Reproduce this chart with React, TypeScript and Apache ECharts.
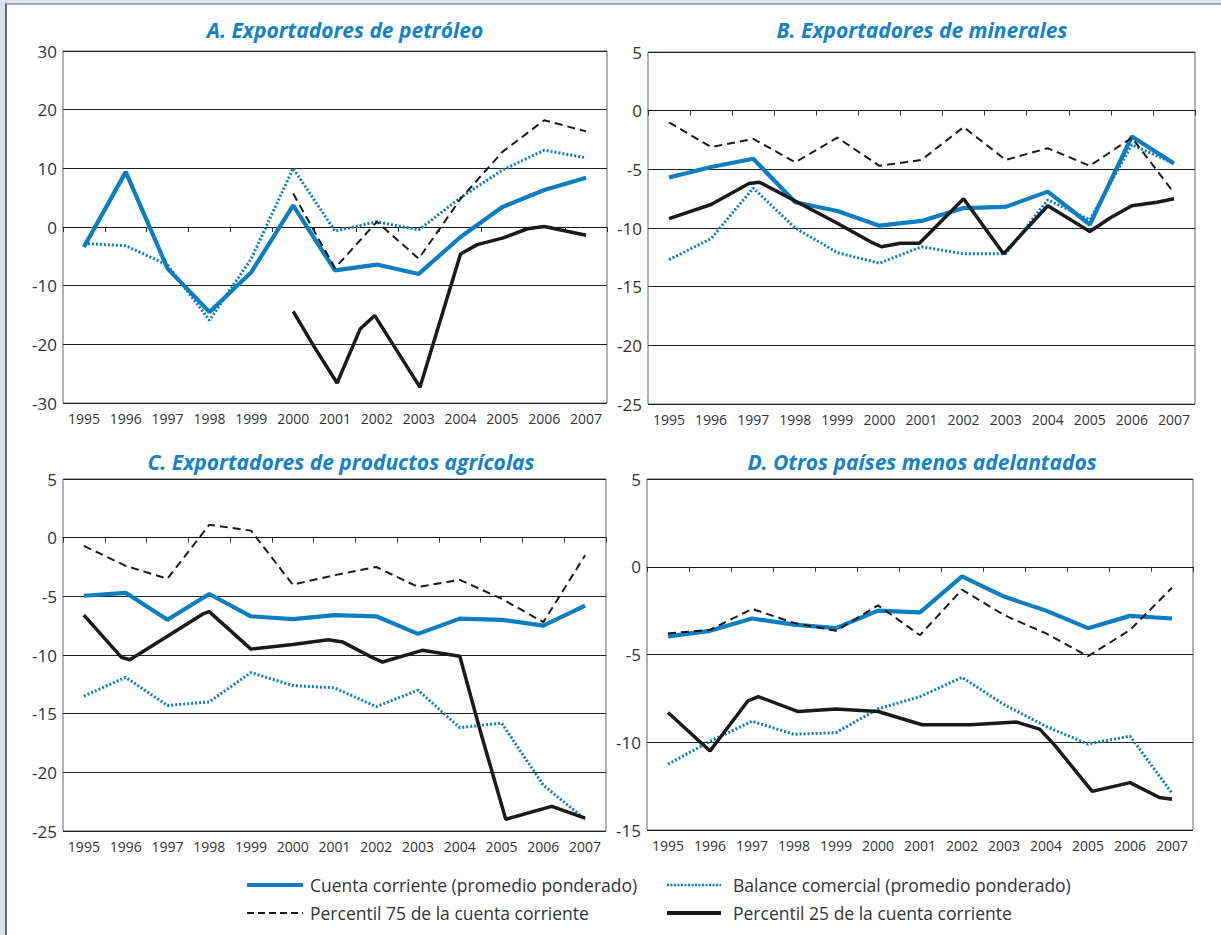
import React, { useEffect, useRef } from "react";
import * as echarts from "echarts";

const years = ["1995", "1996", "1997", "1998", "1999", "2000", "2001", "2002", "2003", "2004", "2005", "2006", "2007"];

const titles = [
  "A. Exportadores de petróleo",
  "B. Exportadores de minerales",
  "C. Exportadores de productos agrícolas",
  "D. Otros países menos adelantados",
];

const legendLabels = [
  "Cuenta corriente (promedio ponderado)",
  "Balance comercial (promedio ponderado)",
  "Percentil 75 de la cuenta corriente",
  "Percentil 25 de la cuenta corriente",
];

// Panel A
const ccA = [-3.4, 9.4, -7.1, -14.5, -7.7, 3.7, -7.4, -6.4, -8.0, -1.7, 3.4, 6.3, 8.4];
const bcA = [-2.8, -3.2, -6.5, -15.9, -5.4, 10.0, -0.7, 0.9, -0.5, 5.0, 9.7, 13.1, 11.8];
const p75A = [[2000, 5.7], [2001, -7.0], [2002, 0.9], [2003, -5.4], [2004, 4.8], [2005, 12.8], [2006, 18.2], [2007, 16.3]];
const p25A = [[2000, -14.4], [2000.5, -20.4], [2001.05, -26.6], [2001.6, -17.4], [2001.95, -15.1], [2003.03, -27.3], [2004, -4.6], [2004.4, -3.0], [2005, -1.9], [2005.6, -0.3], [2006, 0.1], [2007, -1.4]];

// Panel B
const ccB = [-5.7, -4.8, -4.1, -7.8, -8.55, -9.8, -9.4, -8.3, -8.2, -6.9, -9.7, -2.2, -4.5];
const bcB = [-12.7, -10.9, -6.6, -10.0, -12.1, -13.0, -11.6, -12.2, -12.2, -7.6, -9.3, -2.9, -4.5];
const p75B = [-1.0, -3.1, -2.4, -4.4, -2.3, -4.7, -4.2, -1.4, -4.2, -3.2, -4.7, -2.3, -7.0];
const p25B = [[1995, -9.2], [1996, -8.0], [1996.9, -6.2], [1997.15, -6.1], [1998, -7.7], [1999, -9.6], [1999.8, -11.2], [2000.05, -11.6], [2000.5, -11.3], [2000.95, -11.3], [2002, -7.5], [2002.95, -12.2], [2004, -8.1], [2005, -10.3], [2005.5, -9.1], [2006, -8.1], [2006.6, -7.8], [2007, -7.5]];

// Panel C
const ccC = [-4.95, -4.7, -7.0, -4.8, -6.7, -6.95, -6.6, -6.7, -8.2, -6.9, -7.0, -7.5, -5.8];
const bcC = [-13.5, -11.9, -14.3, -14.0, -11.5, -12.6, -12.8, -14.4, -13.0, -16.2, -15.8, -21.1, -24.0];
const p75C = [-0.7, -2.4, -3.5, 1.1, 0.6, -4.0, -3.2, -2.5, -4.2, -3.6, -5.2, -7.2, -1.5];
const p25C = [[1995, -6.6], [1995.9, -10.2], [1996.1, -10.4], [1997, -8.4], [1997.85, -6.5], [1998, -6.3], [1999, -9.5], [2000, -9.1], [2000.85, -8.7], [2001.2, -8.9], [2001.9, -10.2], [2002.15, -10.6], [2003.1, -9.6], [2004, -10.1], [2004.5, -16.6], [2005.1, -24.0], [2006.2, -22.9], [2007, -23.9]];

// Panel D
const ccD = [-3.97, -3.65, -2.95, -3.3, -3.5, -2.5, -2.6, -0.55, -1.7, -2.5, -3.5, -2.8, -2.95];
const bcD = [-11.25, -9.95, -8.8, -9.55, -9.45, -8.1, -7.4, -6.3, -7.85, -9.1, -10.1, -9.65, -12.9];
const p75D = [-3.8, -3.6, -2.4, -3.2, -3.65, -2.2, -3.9, -1.3, -2.75, -3.8, -5.1, -3.6, -1.2];
const p25D = [[1995, -8.3], [1996, -10.5], [1996.9, -7.65], [1997.15, -7.4], [1998.1, -8.25], [1999, -8.1], [2000, -8.25], [2001.05, -9.0], [2002.2, -9.0], [2003.3, -8.85], [2003.85, -9.25], [2004.2, -10.15], [2005.1, -12.8], [2006, -12.3], [2006.7, -13.15], [2007, -13.25]];

const yRanges = [
  { min: -30, max: 30, interval: 10 },
  { min: -25, max: 5, interval: 5 },
  { min: -25, max: 5, interval: 5 },
  { min: -15, max: 5, interval: 5 },
];

const BLUE = "#0b7dc2";
const TITLE_BLUE = "#1581c6";
const TEXT = "#333333";
const FONT = "'Open Sans', 'DejaVu Sans', sans-serif";

const toPairs = (vals: (number | null)[]) => vals.map((v, i) => [Number(years[i]), v]);

export default function App() {
  const ref = useRef<HTMLDivElement>(null);

  useEffect(() => {
    if (!ref.current) return;
    const chart = echarts.init(ref.current, undefined, { renderer: "svg" });

    const panels = [
      { cc: toPairs(ccA), bc: toPairs(bcA), p75: p75A, p25: p25A },
      { cc: toPairs(ccB), bc: toPairs(bcB), p75: toPairs(p75B), p25: p25B },
      { cc: toPairs(ccC), bc: toPairs(bcC), p75: toPairs(p75C), p25: p25C },
      { cc: toPairs(ccD), bc: toPairs(bcD), p75: toPairs(p75D), p25: p25D },
    ];

    const grids = [
      { left: 63, top: 51, width: 544, height: 352 },
      { left: 648, top: 52, width: 547, height: 352 },
      { left: 63, top: 479, width: 543, height: 352 },
      { left: 647, top: 479, width: 546, height: 351 },
    ];
    const titlePos = [
      [345, 30],
      [922, 30],
      [341, 462],
      [922, 462],
    ];

    const xAxis: any[] = [];
    const yAxis: any[] = [];
    const series: any[] = [];

    grids.forEach((_, i) => {
      xAxis.push({
        type: "value",
        gridIndex: i,
        min: 1994.5,
        max: 2007.5,
        show: false,
        position: "top",
        axisLine: { show: false, onZero: false },
      });
      xAxis.push({
        type: "category",
        gridIndex: i,
        data: years,
        boundaryGap: true,
        position: "bottom",
        axisLine: { show: false, onZero: false },
        axisTick: { show: false },
        splitLine: { show: false },
        axisLabel: { fontSize: 14, color: TEXT, margin: 8, fontFamily: FONT },
      });
      xAxis.push({
        type: "category",
        gridIndex: i,
        data: years,
        boundaryGap: true,
        position: "bottom",
        axisLine: { show: true, onZero: true, onZeroAxisIndex: i, lineStyle: { color: "#111", width: 1 } },
        axisTick: { show: true, length: 5, lineStyle: { color: "#333", width: 1 } },
        axisLabel: { show: false },
        splitLine: { show: false },
      });
      yAxis.push({
        type: "value",
        gridIndex: i,
        min: yRanges[i].min,
        max: yRanges[i].max,
        interval: yRanges[i].interval,
        axisLine: { show: false },
        axisTick: { show: false },
        axisLabel: { fontSize: 17, color: TEXT, margin: 6, fontFamily: FONT },
        splitLine: { show: true, lineStyle: { color: "#222", width: 1 } },
      });
      const p = panels[i];
      const base = { type: "line", xAxisIndex: i * 3, yAxisIndex: i, symbol: "none", silent: true };
      series.push({ ...base, name: legendLabels[0], data: p.cc, lineStyle: { color: BLUE, width: 4.2 }, z: 3 });
      series.push({ ...base, name: legendLabels[1], data: p.bc, lineStyle: { color: BLUE, width: 3, type: [2, 2] }, z: 4 });
      series.push({ ...base, name: legendLabels[2], data: p.p75, lineStyle: { color: "#1a1a1a", width: 2, type: [8, 5] }, z: 5 });
      series.push({ ...base, name: legendLabels[3], data: p.p25, lineStyle: { color: "#1a1a1a", width: 3.5 }, z: 6 });
    });

    const graphic: any[] = [
      { type: "rect", shape: { x: 0, y: 0, width: 5, height: 935 }, style: { fill: "#d7e2f2" }, silent: true },
      { type: "rect", shape: { x: 0, y: 0, width: 1221, height: 3 }, style: { fill: "#d7e2f2" }, silent: true },
      { type: "line", shape: { x1: 6, y1: 3, x2: 6, y2: 935 }, style: { stroke: "#666", lineWidth: 2 }, silent: true },
      { type: "line", shape: { x1: 5, y1: 4, x2: 1221, y2: 4 }, style: { stroke: "#888", lineWidth: 1.5 }, silent: true },
    ];

    titles.forEach((t, i) => {
      graphic.push({
        type: "text",
        x: titlePos[i][0],
        y: titlePos[i][1],
        style: {
          text: t,
          fill: TITLE_BLUE,
          font: `italic bold 21px ${FONT}`,
          textAlign: "center",
          textVerticalAlign: "middle",
        },
        silent: true,
      });
    });

    const legendItems = [
      { x: 247, y: 885, lx2: 303, tx: 310, stroke: BLUE, width: 4, dash: null as any },
      { x: 667, y: 885, lx2: 721, tx: 733, stroke: BLUE, width: 2.5, dash: [2, 1.5] },
      { x: 247, y: 913, lx2: 303, tx: 310, stroke: "#1a1a1a", width: 2, dash: [7, 4] },
      { x: 667, y: 913, lx2: 721, tx: 733, stroke: "#1a1a1a", width: 4, dash: null as any },
    ];
    legendItems.forEach((it, i) => {
      graphic.push({
        type: "line",
        shape: { x1: it.x, y1: it.y, x2: it.lx2, y2: it.y },
        style: { stroke: it.stroke, lineWidth: it.width, lineDash: it.dash || undefined },
        silent: true,
      });
      graphic.push({
        type: "text",
        x: it.tx,
        y: it.y,
        style: {
          text: legendLabels[i],
          fill: TEXT,
          font: `17.5px ${FONT}`,
          textAlign: "left",
          textVerticalAlign: "middle",
        },
        silent: true,
      });
    });

    chart.setOption({
      animation: false,
      backgroundColor: "#ffffff",
      grid: grids.map((g) => ({ ...g, show: true, borderColor: "#666", borderWidth: 1, containLabel: false })),
      xAxis,
      yAxis,
      series,
      graphic,
    });

    return () => chart.dispose();
  }, []);

  return (
    <div
      ref={ref}
      style={{ position: "fixed", left: 0, top: 0, width: 1221, height: 935, background: "#fff" }}
    />
  );
}
